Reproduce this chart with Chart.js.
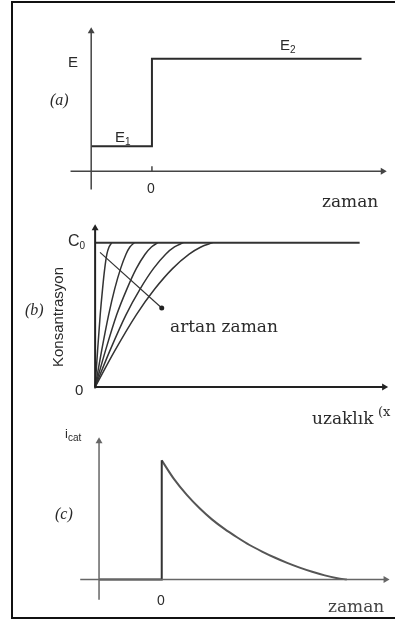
<!DOCTYPE html>
<html>
<head>
<meta charset="utf-8">
<script src="https://cdn.jsdelivr.net/npm/chart.js@4.4.1/dist/chart.umd.min.js"></script>
<style>
  body { margin: 0; background: #fff; }
  #page { position: relative; width: 395px; height: 623px; overflow: hidden; background: #fff; }
  #frame { position: absolute; left: 11px; top: 1px; width: 400px; height: 614px; border: 2px solid #111; border-right: none; }
  canvas { position: absolute; left: 0; }
  .lbl { position: absolute; white-space: nowrap; color: #2a2a2a; line-height: 1; }
  .sans { font-family: "Liberation Sans", Arial, sans-serif; }
  .serif { font-family: "DejaVu Serif", serif; font-size: 17px; }
  .tag { font-family: "Liberation Serif", serif; font-style: italic; font-size: 16px; }
  sub { font-size: 10px; vertical-align: -3px; line-height: 0; }
</style>
</head>
<body>
<div id="page">
  <div id="frame"></div>
  <canvas id="stepChart" width="395" height="205" style="top:0px"></canvas>
  <canvas id="profileChart" width="395" height="210" style="top:205px"></canvas>
  <canvas id="currentChart" width="395" height="208" style="top:415px"></canvas>

  <!-- (a) -->
  <div class="lbl sans" style="left:68px;top:54px;font-size:15px">E</div>
  <div class="lbl tag" style="left:50px;top:92px">(a)</div>
  <div class="lbl sans" style="left:115px;top:129px;font-size:15px">E<sub>1</sub></div>
  <div class="lbl sans" style="left:280px;top:37px;font-size:15px">E<sub>2</sub></div>
  <div class="lbl sans" style="left:147px;top:181px;font-size:14px">0</div>
  <div class="lbl serif" style="left:322px;top:193px">zaman</div>

  <!-- (b) -->
  <div class="lbl sans" style="left:68px;top:233px;font-size:16px">C<sub>0</sub></div>
  <div class="lbl sans" style="left:57px;top:317px;font-size:15px;transform:translate(-50%,-50%) rotate(-90deg)">Konsantrasyon</div>
  <div class="lbl tag" style="left:25px;top:302px">(b)</div>
  <div class="lbl sans" style="left:75px;top:382px;font-size:15px">0</div>
  <div class="lbl serif" style="left:170px;top:318px">artan zaman</div>
  <div class="lbl serif" style="left:312px;top:410px">uzaklık</div>
  <div class="lbl serif" style="left:378px;top:405px;font-size:13px">(x</div>

  <!-- (c) -->
  <div class="lbl sans" style="left:65px;top:427px;font-size:13px">i<sub>cat</sub></div>
  <div class="lbl tag" style="left:55px;top:506px">(c)</div>
  <div class="lbl sans" style="left:157px;top:593px;font-size:14px">0</div>
  <div class="lbl serif" style="left:328px;top:598px;color:#444">zaman</div>
</div>

<script>
// (a) potential step E1 -> E2 at t = 0
const stepTime = [-1, 0, 0, 3.45];
const stepPotential = [1, 1, 4.5, 4.5];

// (b) concentration profiles: distance at which each profile reaches the given C/C0
const concLevels = [0, 0.25, 0.5, 0.68, 0.82, 0.92, 0.97, 1];
const profile1 = [0, 0.25, 0.52, 0.76, 0.98, 1.2, 1.42, 1.7];
const profile2 = [0, 0.66, 1.38, 2.0, 2.6, 3.15, 3.55, 4.0];
const profile3 = [0, 1.05, 2.2, 3.25, 4.2, 5.1, 5.75, 6.4];
const profile4 = [0, 1.5, 3.15, 4.6, 5.95, 7.2, 8.1, 9.0];
const profile5 = [0, 2.0, 4.2, 6.1, 7.9, 9.6, 10.8, 12.0];
const bulkEnd = 27;

// (c) cathodic current after the step
const baseTime = [-1, 0, 0];
const baseCurrent = [0, 0, 1];
const decayTime = [0, 0.2, 0.4, 0.6, 0.8, 1.0, 1.2, 1.4, 1.6, 1.8, 2.0, 2.2, 2.4, 2.6, 2.8, 2.95];
const decayCurrent = [1, 0.84, 0.71, 0.6, 0.505, 0.425, 0.355, 0.29, 0.235, 0.185, 0.14, 0.1, 0.065, 0.035, 0.012, 0];

const pts = (xs, ys) => xs.map((x, i) => ({ x, y: ys[i] }));

function line(points, color, width, extra) {
  return Object.assign({
    type: 'line', data: points, borderColor: color, borderWidth: width,
    pointRadius: 0, tension: 0, fill: false, clip: false
  }, extra);
}

// smooth curve through the read points
function curve(points, color, width) {
  return line(points, color, width, { tension: 0.4, cubicInterpolationMode: 'monotone' });
}

// axis line with a triangle head on its last point
function arrow(points, color, width, rotation) {
  return line(points, color, width, {
    pointStyle: 'triangle',
    pointRadius: points.map((p, i) => i === points.length - 1 ? 4 : 0),
    pointRotation: rotation,
    pointBackgroundColor: color,
    pointBorderColor: color,
    pointBorderWidth: 0
  });
}

// x0/y0: pixel of the data origin inside the canvas, xUnit/yUnit: pixels per unit
function makePanel(id, frame, datasets) {
  const { width, height, x0, xUnit, y0, yUnit } = frame;
  return new Chart(document.getElementById(id), {
    type: 'line',
    data: { datasets },
    options: {
      responsive: false,
      animation: false,
      events: [],
      layout: { padding: 0 },
      plugins: { legend: { display: false }, tooltip: { enabled: false } },
      scales: {
        x: { type: 'linear', display: false, bounds: 'data', min: -x0 / xUnit, max: (width - x0) / xUnit },
        y: { type: 'linear', display: false, bounds: 'data', min: (y0 - height) / yUnit, max: y0 / yUnit }
      }
    }
  });
}

makePanel('stepChart', { width: 395, height: 205, x0: 151, xUnit: 62, y0: 174, yUnit: 26 }, [
  arrow([{ x: -1.34, y: 0 }, { x: 3.8, y: 0 }], '#444', 1.5, 90),
  arrow([{ x: -1, y: -0.73 }, { x: -1, y: 5.6 }], '#444', 1.5, 0),
  line([{ x: 0, y: 0 }, { x: 0, y: 0.2 }], '#444', 1.5),
  line(pts(stepTime, stepPotential), '#2b2b2b', 2)
]);

const profiles = [profile1, profile2, profile3, profile4, profile5].map(d =>
  curve(pts(d, concLevels), '#333', 1.5)
);

makePanel('profileChart', { width: 395, height: 210, x0: 93, xUnit: 10, y0: 185, yUnit: 150 }, [
  arrow([{ x: 0, y: 0 }, { x: 29.5, y: 0 }], '#222', 2, 90),
  arrow([{ x: 0, y: -0.01 }, { x: 0, y: 1.1 }], '#222', 2, 0),
  line([{ x: 0, y: 1 }, { x: bulkEnd, y: 1 }], '#333', 2),
  ...profiles,
  line([{ x: 0.5, y: 0.933 }, { x: 6.8, y: 0.547 }], '#333', 1.2, {
    pointRadius: [0, 2.5], pointBackgroundColor: '#222', pointBorderWidth: 0
  })
]);

makePanel('currentChart', { width: 395, height: 208, x0: 161, xUnit: 64, y0: 167, yUnit: 124 }, [
  arrow([{ x: -1.3, y: 0 }, { x: 3.57, y: 0 }], '#666', 1.5, 90),
  arrow([{ x: -1, y: -0.17 }, { x: -1, y: 1.16 }], '#666', 1.5, 0),
  line(pts(baseTime, baseCurrent), '#333', 2),
  curve(pts(decayTime, decayCurrent), '#555', 2)
]);
</script>
</body>
</html>
